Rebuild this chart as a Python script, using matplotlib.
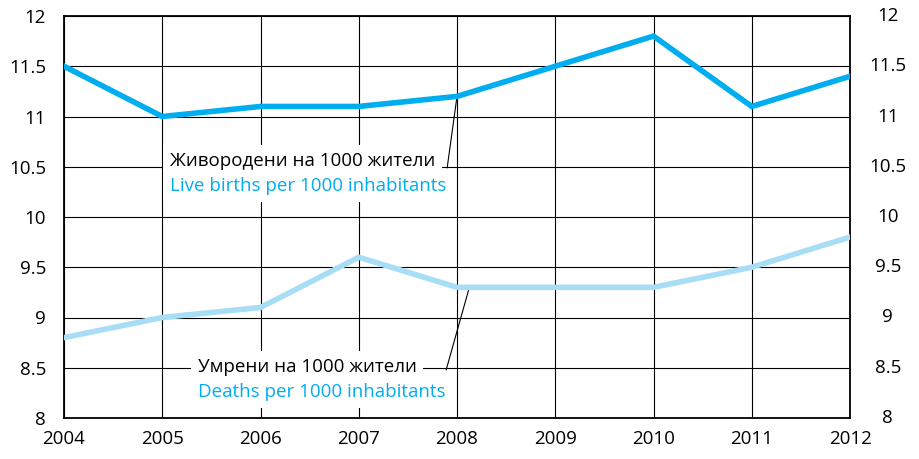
import matplotlib
matplotlib.use("Agg")
import matplotlib.pyplot as plt

years = [2004, 2005, 2006, 2007, 2008, 2009, 2010, 2011, 2012]
live_births = [11.5, 11.0, 11.1, 11.1, 11.2, 11.5, 11.8, 11.1, 11.4]
deaths = [8.8, 9.0, 9.1, 9.6, 9.3, 9.3, 9.3, 9.5, 9.8]
y_ticks = [8, 8.5, 9, 9.5, 10, 10.5, 11, 11.5, 12]
y_tick_labels = ["8", "8.5", "9", "9.5", "10", "10.5", "11", "11.5", "12"]

births_bg = "Живородени на 1000 жители"
births_en = "Live births per 1000 inhabitants"
deaths_bg = "Умрени на 1000 жители"
deaths_en = "Deaths per 1000 inhabitants"

plt.rcParams["font.family"] = ["Open Sans", "DejaVu Sans"]

births_color = "#00aeef"
deaths_color = "#a8ddf6"
fs = 13.5

fig = plt.figure(figsize=(9.2, 4.59), dpi=100)
ax = fig.add_axes([64 / 920, 41 / 459, 786 / 920, 402 / 459])

ax.plot(years, live_births, color=births_color, linewidth=4, solid_joinstyle="miter", zorder=3)
ax.plot(years, deaths, color=deaths_color, linewidth=4, solid_joinstyle="miter", zorder=3)

ax.set_xlim(years[0], years[-1])
ax.set_ylim(y_ticks[0], y_ticks[-1])
ax.set_xticks(years)
ax.set_yticks(y_ticks)
ax.set_yticklabels(y_tick_labels)
ax.grid(True, color="black", linewidth=0.8)
ax.set_axisbelow(True)
for s in ax.spines.values():
    s.set_linewidth(1.3)

ax.tick_params(axis="both", length=0, labelsize=fs)
ax.tick_params(axis="x", pad=9)
ax.tick_params(axis="y", pad=13)

# right-side labels, centred as in the original
for v, lab in zip(y_ticks, y_tick_labels):
    ax.text(1.048, v, lab, transform=ax.get_yaxis_transform(), ha="center", va="center",
            fontsize=fs, clip_on=False)

# leader lines
ax.plot([2007.90, 2008.0], [10.49, 11.2], color="black", linewidth=0.8, zorder=2)
ax.plot([2007.89, 2008.12], [8.48, 9.28], color="black", linewidth=0.8, zorder=2)

box = dict(facecolor="white", edgecolor="none", pad=5)
ax.text(2005.08, 10.555, births_bg, color="black", fontsize=fs, va="center", ha="left", bbox=box, zorder=4)
ax.text(2005.08, 10.305, births_en, color=births_color, fontsize=fs, va="center", ha="left", bbox=box, zorder=4)
ax.text(2005.36, 8.51, deaths_bg, color="black", fontsize=fs, va="center", ha="left", bbox=box, zorder=4)
ax.text(2005.36, 8.26, deaths_en, color=births_color, fontsize=fs, va="center", ha="left", bbox=box, zorder=4)

fig.savefig("out.png", dpi=100)
